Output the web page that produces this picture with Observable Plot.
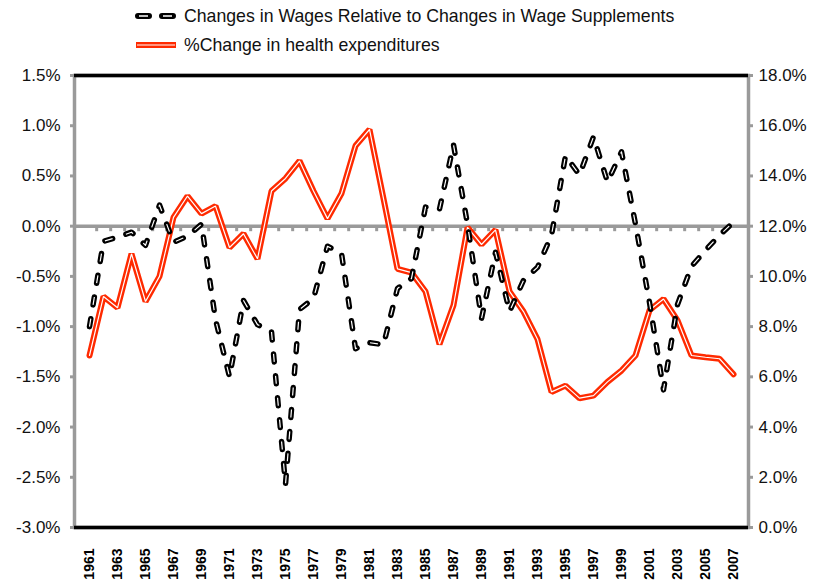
<!DOCTYPE html>
<html><head><meta charset="utf-8">
<script src="https://cdn.jsdelivr.net/npm/d3@7"></script>
<script src="https://cdn.jsdelivr.net/npm/@observablehq/plot@0.6"></script>
<style>
body{margin:0;background:#fff;font-family:"Liberation Sans",Arial,sans-serif;}
#legend{position:relative;height:60px;width:817px;}
.item{position:absolute;left:134px;height:20px;display:flex;align-items:center;font-size:17.7px;color:#111;white-space:nowrap;}
.item svg{margin-right:6px;}
</style></head><body>
<div id="legend">
  <div class="item" style="top:6px">
    <svg width="44" height="12"><line x1="4" y1="6" x2="40" y2="6" stroke="#000" stroke-width="6" stroke-linecap="round" stroke-dasharray="11,13"/><line x1="5" y1="6" x2="40" y2="6" stroke="#fff" stroke-width="1.5" stroke-dasharray="9,15"/></svg>
    <span>Changes in Wages Relative to Changes in Wage Supplements</span>
  </div>
  <div class="item" style="top:35px">
    <svg width="44" height="12"><line x1="2" y1="6" x2="42" y2="6" stroke="#ff2a00" stroke-width="6"/><line x1="3" y1="6" x2="41" y2="6" stroke="#fff" stroke-width="1.2"/></svg>
    <span>%Change in health expenditures</span>
  </div>
</div>
<div id="chart"></div>
<script>
const years = [1961,1962,1963,1964,1965,1966,1967,1968,1969,1970,1971,1972,1973,1974,1975,1976,1977,1978,1979,1980,
  1981,1982,1983,1984,1985,1986,1987,1988,1989,1990,1991,1992,1993,1994,1995,1996,1997,1998,1999,2000,
  2001,2002,2003,2004,2005,2006,2007];
// Changes in Wages Relative to Changes in Wage Supplements (%), left axis
const wages = [-1.00,-0.15,-0.11,-0.06,-0.19,0.21,-0.16,-0.10,0.02,-0.93,-1.50,-0.74,-0.98,-1.05,-2.57,-0.83,-0.72,-0.20,-0.27,-1.22,
  -1.16,-1.18,-0.62,-0.52,0.19,0.17,0.81,0.02,-0.92,-0.26,-0.85,-0.54,-0.41,-0.09,0.70,0.51,0.89,0.44,0.74,0.02,
  -0.76,-1.63,-0.78,-0.40,-0.24,-0.09,0.04];
// % Change in health expenditures, right axis
const health = [6.85,9.2,8.75,10.9,9.0,10.0,12.35,13.2,12.5,12.8,11.15,11.7,10.7,13.4,13.9,14.6,13.4,12.3,13.3,15.2,
  15.85,13.1,10.3,10.15,9.4,7.3,8.85,11.95,11.27,11.85,9.4,8.6,7.5,5.4,5.65,5.15,5.25,5.8,6.25,6.85,
  8.65,9.1,8.25,6.85,6.78,6.72,6.1];
const leftTicks = [-3,-2.5,-2,-1.5,-1,-0.5,0,0.5,1,1.5];
const rightTicks = [0,2,4,6,8,10,12,14,16,18];
const xTickLabels = [1961,1963,1965,1967,1969,1971,1973,1975,1977,1979,1981,1983,1985,1987,1989,1991,1993,1995,1997,1999,2001,2003,2005,2007];

const leftDomain = [-3, 1.5];
const rightDomain = [0, 18];
const toLeft = v => leftDomain[0] + (v - rightDomain[0]) * (leftDomain[1]-leftDomain[0]) / (rightDomain[1]-rightDomain[0]);
const toRight = v => rightDomain[0] + (v - leftDomain[0]) * (rightDomain[1]-rightDomain[0]) / (leftDomain[1]-leftDomain[0]);

const wageRows = years.map((y,i)=>({year:y, v:wages[i]}));
const healthRows = years.map((y,i)=>({year:y, v:toLeft(health[i])}));

const W = 817, H = 526, mL = 74, mR = 69, mT = 15, mB = 59;
const step = (W - mL - mR) / years.length;
const grey = "#9a9a9a";

const chart = Plot.plot({
  width: W, height: H,
  marginTop: mT, marginBottom: mB, marginLeft: mL, marginRight: mR,
  x: {type: "point", domain: years, padding: 0.5, axis: null, label: null},
  y: {domain: leftDomain, axis: null, label: null},
  style: {fontFamily: '"Liberation Sans", Arial, sans-serif', fontSize: "17px", background: "#fff", color: "#111"},
  marks: [
    Plot.frame({stroke: grey, strokeWidth: 3.5}),
    Plot.ruleY([0], {stroke: grey, strokeWidth: 3.5}),
    Plot.ruleX(years.slice(0, -1), {y1: 0, y2: -0.055, dx: step/2, stroke: grey, strokeWidth: 3}),
    Plot.ruleY(leftDomain, {stroke: "#000", strokeWidth: 3.5}),
    Plot.axisY(leftTicks, {anchor: "left", label: null, tickSize: 4, tickPadding: 10, stroke: grey, strokeWidth: 3,
      fill: "#111", tickFormat: d => d.toFixed(1) + "%"}),
    Plot.axisY(leftTicks, {anchor: "right", label: null, tickSize: 4, tickPadding: 6, stroke: grey, strokeWidth: 3,
      fill: "#111", tickFormat: d => toRight(d).toFixed(1) + "%"}),
    Plot.axisX(xTickLabels, {anchor: "bottom", label: null, tickSize: 0, tickPadding: 21, tickRotate: -90,
      fontSize: 14, fontWeight: "bold", fill: "#000", tickFormat: d => String(d)}),
    Plot.line(healthRows, {x: "year", y: "v", stroke: "#ff2a00", strokeWidth: 6, strokeLinejoin: "miter"}),
    Plot.line(healthRows, {x: "year", y: "v", stroke: "#fff", strokeWidth: 1.2, strokeLinejoin: "miter"}),
    Plot.line(wageRows, {x: "year", y: "v", stroke: "#000", strokeWidth: 5.5, strokeDasharray: "8,14", strokeLinecap: "round"}),
    Plot.line(wageRows, {x: "year", y: "v", stroke: "#fff", strokeWidth: 1.2, strokeDasharray: "8,14", strokeLinecap: "butt"})
  ]
});
document.getElementById("chart").appendChild(chart);
</script>
</body></html>
